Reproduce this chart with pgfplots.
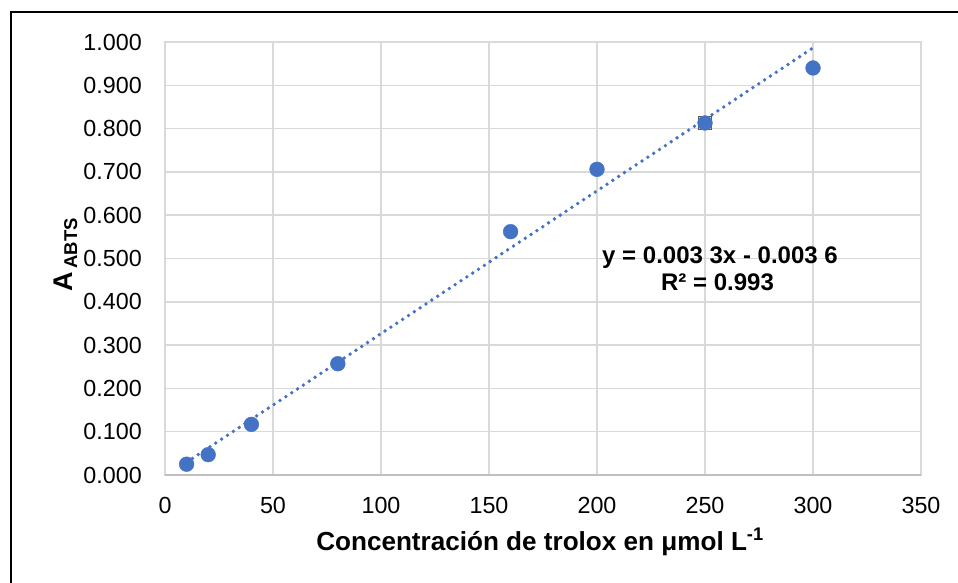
\documentclass[border=0pt]{standalone}
\usepackage{fontspec}
\setmainfont{Liberation Sans}
\usepackage{pgfplots}
\pgfplotsset{compat=1.18}
\definecolor{series}{RGB}{68,114,196}
\definecolor{gridc}{RGB}{217,217,217}
\definecolor{axisc}{RGB}{191,191,191}
\definecolor{selc}{RGB}{89,89,89}

\begin{document}
\begin{tikzpicture}[x=1pt,y=1pt]
\useasboundingbox (0,0) rectangle (958,-582);
% chart frame (runs past the right and bottom edges)
\draw[line width=2.2pt] (11,-620) -- (11,-12) -- (990,-12);
\begin{axis}[
  at={(165pt,-475pt)}, anchor=south west,
  scale only axis, width=756pt, height=433pt,
  xmin=0, xmax=350, ymin=0, ymax=1,
  xtick={0,50,100,150,200,250,300,350},
  ytick={0,0.1,0.2,0.3,0.4,0.5,0.6,0.7,0.8,0.9,1.0},
  grid=major,
  major grid style={color=gridc, line width=1.5pt},
  axis line style={color=gridc, line width=1.5pt},
  major tick length=0pt,
  tick style={draw=none},
  /pgf/number format/assume math mode=true,
  yticklabel={\pgfmathprintnumber[fixed, fixed zerofill, precision=3]{\tick}},
  xticklabel={\pgfmathprintnumber[fixed, precision=0]{\tick}},
  tick label style={font=\fontsize{23.3}{28}\selectfont, text=black},
  yticklabel style={anchor=east, inner sep=0pt, xshift=-23pt},
  xticklabel style={anchor=north, inner sep=0pt, yshift=-22pt},
  clip=false,
]
% horizontal axis line
\draw[axisc, line width=1.5pt] (rel axis cs:0,0) -- (rel axis cs:1,0);

% linear trendline y = 0.0033x - 0.0036 over the data range
\addplot[series, line width=3.8pt, line cap=round, dash pattern=on 0pt off 7pt, no markers]
  coordinates {(10,0.0294) (300,0.9864)};

% highlighted point
\addplot[only marks, mark=square, mark size=6.6pt, mark options={draw=selc, line width=1pt, fill=none}]
  coordinates {(250,0.813)};

% measured absorbances
\addplot[only marks, color=series, mark=*, mark size=7.4pt, mark options={fill=series, draw=series, line width=0.4pt}]
  coordinates {
    (10,0.025) (20,0.047) (40,0.117) (80,0.257)
    (160,0.562) (200,0.706) (250,0.813) (300,0.940)
  };
\end{axis}

% axis titles
\node[anchor=base, font=\fontsize{26.1}{30}\selectfont\bfseries] at (540,-550)
  {Concentración de trolox en μmol L\textsuperscript{-1}};
\node[rotate=90, anchor=base, font=\fontsize{27}{30}\selectfont\bfseries] at (72,-255)
  {A\hspace{4pt}\raisebox{-5pt}{\fontsize{18.5}{20}\selectfont ABTS}};

% trendline equation
\node[anchor=base, font=\fontsize{24}{28}\selectfont\bfseries] at (720,-263)
  {y = 0.003 3x - 0.003 6};
\node[anchor=base, font=\fontsize{24}{28}\selectfont\bfseries] at (717.5,-290)
  {R² = 0.993};
\end{tikzpicture}
\end{document}
